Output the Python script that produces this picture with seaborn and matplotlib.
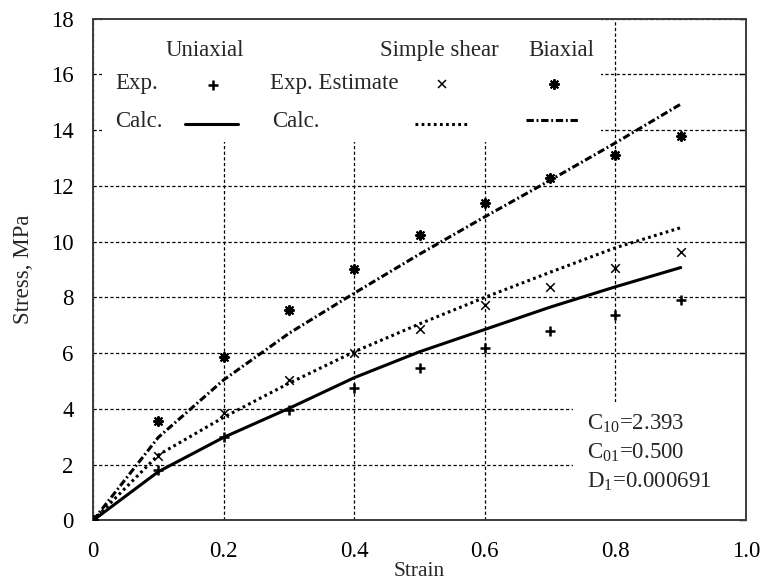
import matplotlib
matplotlib.use("Agg")
import matplotlib.pyplot as plt
from matplotlib.patches import Rectangle
import seaborn as sns
import pandas as pd

# Nominal strain levels
strain = [0.0, 0.1, 0.2, 0.3, 0.4, 0.5, 0.6, 0.7, 0.8, 0.9]

# Measured / estimated stresses, MPa
uniaxial_exp = [0.0, 1.80, 2.98, 3.96, 4.74, 5.46, 6.20, 6.79, 7.38, 7.90]
shear_exp = [0.0, 2.31, 3.84, 5.03, 6.02, 6.87, 7.71, 8.39, 9.06, 9.62]
biaxial_exp = [0.0, 3.58, 5.88, 7.56, 9.03, 10.23, 11.37, 12.29, 13.10, 13.78]

# Mooney-Rivlin model predictions, MPa
uniaxial_calc = [0.0, 1.75, 2.98, 4.02, 5.12, 6.05, 6.85, 7.65, 8.38, 9.07]
shear_calc = [0.0, 2.35, 3.70, 4.92, 6.05, 7.05, 8.00, 8.90, 9.78, 10.50]
biaxial_calc = [0.0, 2.98, 5.04, 6.71, 8.15, 9.55, 10.89, 12.20, 13.54, 14.93]

x_ticks = [0, 0.2, 0.4, 0.6, 0.8, 1.0]
x_tick_labels = ["0", "0.2", "0.4", "0.6", "0.8", "1.0"]
y_ticks = [0, 2, 4, 6, 8, 10, 12, 14, 16, 18]

params_text = ["C$_{10}$=2.393", "C$_{01}$=0.500", "D$_{1}$=0.000691"]

df = pd.DataFrame({
    "strain": strain,
    "uni_exp": uniaxial_exp, "shear_exp": shear_exp, "biax_exp": biaxial_exp,
    "uni_calc": uniaxial_calc, "shear_calc": shear_calc, "biax_calc": biaxial_calc,
})

sns.set_style("white")
plt.rcParams["font.family"] = ["Liberation Serif", "DejaVu Serif"]
plt.rcParams["mathtext.fontset"] = "custom"
plt.rcParams["mathtext.rm"] = "Liberation Serif"
plt.rcParams["mathtext.it"] = "Liberation Serif:italic"

FS = 16.5
fig = plt.figure(figsize=(7.65, 5.86), dpi=100)
ax = fig.add_axes([0.1216, 0.1118, 0.8536, 0.8566])

# line styles
SOLID = "-"
DOTTED = (0, (0.9, 1.1))
DASHDOT = (0, (2.4, 0.9, 0.6, 0.9))
LW = 2.2

sns.lineplot(data=df, x="strain", y="uni_calc", ax=ax, color="k", lw=LW,
             linestyle=SOLID, zorder=3)
sns.lineplot(data=df, x="strain", y="shear_calc", ax=ax, color="k", lw=LW,
             linestyle=DOTTED, zorder=3)
sns.lineplot(data=df, x="strain", y="biax_calc", ax=ax, color="k", lw=LW,
             linestyle=DASHDOT, zorder=3)

STAR = (8, 2, 0)
sns.scatterplot(data=df, x="strain", y="uni_exp", ax=ax, marker="+", s=55,
                color="k", linewidth=1.8, zorder=4)
sns.scatterplot(data=df, x="strain", y="shear_exp", ax=ax, marker="x", s=38,
                color="k", linewidth=1.1, zorder=4)
sns.scatterplot(data=df, x="strain", y="biax_exp", ax=ax, marker=STAR, s=42,
                color="k", linewidth=1.5, zorder=4)

ax.set_xlim(0, 1.0)
ax.set_ylim(0, 18)
ax.set_xticks(x_ticks)
ax.set_xticklabels(x_tick_labels)
ax.set_yticks(y_ticks)
ax.tick_params(axis="both", direction="in", length=5, width=1.0,
               labelsize=FS, colors="k")
ax.tick_params(axis="x", pad=15)
ax.tick_params(axis="y", pad=14, right=True)
for sp in ax.spines.values():
    sp.set_color("#3c3c3c")
    sp.set_linewidth(1.4)
    sp.set_visible(True)

ax.grid(True, color="k", lw=0.9, linestyle=(0, (2.6, 1.9)))
ax.set_axisbelow(True)

ax.set_xlabel("Strain", fontsize=15.5, labelpad=0)
ax.set_ylabel("Stress, MPa", fontsize=FS, labelpad=12)

# white panels under the key and the parameter block
ax.add_patch(Rectangle((0.013, 0.754), 0.765, 0.246, transform=ax.transAxes,
                       facecolor="white", edgecolor="none", zorder=1.2))
ax.add_patch(Rectangle((0.735, 0.0), 0.265, 0.236, transform=ax.transAxes,
                       facecolor="white", edgecolor="none", zorder=1.2))

# key laid out as a small table
T = ax.transAxes
kw = dict(transform=T, fontsize=FS, va="center", zorder=5)
ax.text(0.1715, 0.937, "Uniaxial", ha="center", **kw)
ax.text(0.530, 0.937, "Simple shear", ha="center", **kw)
ax.text(0.717, 0.937, "Biaxial", ha="center", **kw)
ax.text(0.034, 0.8715, "Exp.", ha="left", **kw)
ax.text(0.271, 0.8715, "Exp. Estimate", ha="left", **kw)
ax.text(0.034, 0.794, "Calc.", ha="left", **kw)
ax.text(0.274, 0.794, "Calc.", ha="left", **kw)

ax.plot([0.184], [0.868], transform=T, marker="+", ms=7.5, mew=1.8,
        color="k", ls="none", zorder=5, clip_on=False)
ax.plot([0.534], [0.870], transform=T, marker="x", ms=6.2, mew=1.1,
        color="k", ls="none", zorder=5, clip_on=False)
ax.plot([0.706], [0.870], transform=T, marker=STAR, ms=7.6, mew=1.4,
        color="k", ls="none", zorder=5, clip_on=False)
ax.plot([0.141, 0.222], [0.789, 0.789], transform=T, color="k", lw=LW,
        ls=SOLID, zorder=5)
ax.plot([0.493, 0.573], [0.789, 0.789], transform=T, color="k", lw=LW,
        ls=DOTTED, zorder=5)
ax.plot([0.663, 0.744], [0.797, 0.797], transform=T, color="k", lw=LW,
        ls=DASHDOT, zorder=5)

# fitted material constants
for i, s in enumerate(params_text):
    ax.text(0.757, 0.193 - i * 0.058, s, transform=T, fontsize=FS,
            ha="left", va="center", zorder=5)

fig.savefig("out.png", dpi=100)
